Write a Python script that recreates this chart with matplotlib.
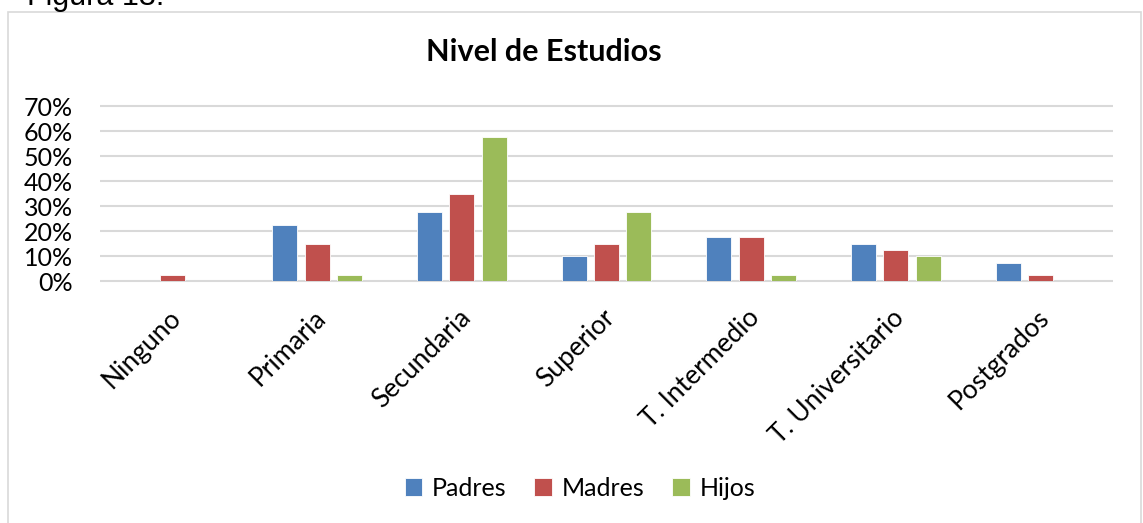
import numpy as np
import matplotlib
matplotlib.use("Agg")
import matplotlib.pyplot as plt
from matplotlib.patches import Rectangle
from matplotlib.transforms import ScaledTranslation

# ------------------------------------------------------------
# Data
# ------------------------------------------------------------
categories = ["Ninguno", "Primaria", "Secundaria", "Superior",
              "T. Intermedio", "T. Universitario", "Postgrados"]
padres = [0.0, 0.225, 0.275, 0.10, 0.175, 0.15, 0.075]
madres = [0.025, 0.15, 0.35, 0.15, 0.175, 0.125, 0.025]
hijos = [0.0, 0.025, 0.575, 0.275, 0.025, 0.10, 0.0]
series_names = ["Padres", "Madres", "Hijos"]
y_ticks = [0.0, 0.1, 0.2, 0.3, 0.4, 0.5, 0.6, 0.7]

colors = ["#4F81BD", "#C0504D", "#9BBB59"]
FONT = "Lato"
W, H = 1143, 523

fig = plt.figure(figsize=(W / 100, H / 100), dpi=100)
ax = fig.add_axes([100 / W, 1 - 281.3 / H, (1113 - 100) / W, (281.3 - 106) / H])

# chart frame and caption (cut at the top of the page)
fig.patches.append(Rectangle((8 / W, -0.05), (1141 - 8) / W, 1.05 - 12 / H,
                             transform=fig.transFigure, fill=False,
                             edgecolor="#D9D9D9", linewidth=1.2))
fig.text(27 / W, 1 - 5 / H, "Figura 13.", fontsize=22, family="Liberation Sans",
         va="baseline", ha="left", color="black")

x = np.arange(len(categories))
bw = 0.173
step = 0.223
for i, (vals, name) in enumerate(zip([padres, madres, hijos], series_names)):
    ax.bar(x + (i - 1) * step, vals, width=bw, color=colors[i], label=name,
           edgecolor="white", linewidth=0.6, zorder=3)

# gridlines
ax.hlines(y_ticks, -0.5, len(categories) - 0.5, colors="#D9D9D9",
          linewidth=1.5, zorder=1, clip_on=False)

ax.set_xlim(-0.5, len(categories) - 0.5)
ax.set_ylim(0, 0.7)
ax.set_yticks(y_ticks)
ax.set_yticklabels([f"{int(round(t * 100))}%" for t in y_ticks],
                   fontsize=18, family=FONT)
ax.set_xticks(x)
ax.set_xticklabels(categories, rotation=45, ha="right", rotation_mode="anchor",
                   fontsize=19, family=FONT)
ax.tick_params(axis="both", length=0)
ax.tick_params(axis="y", pad=19.5)
ax.tick_params(axis="x", pad=17)
shift = ScaledTranslation(-4 / 100, 0, fig.dpi_scale_trans)
for lbl in ax.get_xticklabels():
    lbl.set_transform(lbl.get_transform() + shift)
for sp in ax.spines.values():
    sp.set_visible(False)

fig.text(544 / W, 1 - 52 / H, "Nivel de Estudios", fontsize=22, fontweight="bold",
         family=FONT, ha="center", va="center")

fig.legend(loc="center", bbox_to_anchor=(580 / W, 1 - 488 / H), ncol=3,
           frameon=False, prop={"family": FONT, "size": 18},
           handlelength=0.7, handleheight=0.7, handletextpad=0.4,
           columnspacing=1.1)

fig.savefig("out.png", dpi=100)
